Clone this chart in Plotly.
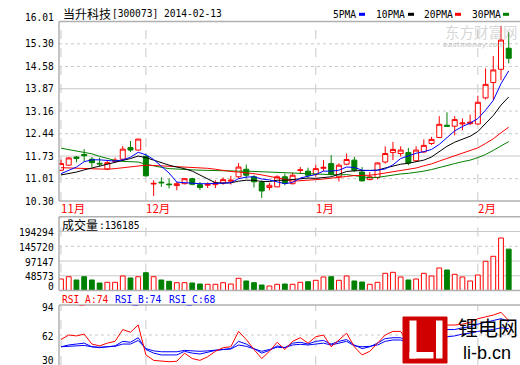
import plotly.graph_objects as go

W, H = 520, 365

dates = [
    "2013-11-15", "2013-11-18", "2013-11-19", "2013-11-20", "2013-11-21", "2013-11-22",
    "2013-11-25", "2013-11-26", "2013-11-27", "2013-11-28", "2013-11-29",
    "2013-12-02", "2013-12-03", "2013-12-04", "2013-12-05", "2013-12-06", "2013-12-09",
    "2013-12-10", "2013-12-11", "2013-12-12", "2013-12-13", "2013-12-16", "2013-12-17",
    "2013-12-18", "2013-12-19", "2013-12-20", "2013-12-23", "2013-12-24", "2013-12-25",
    "2013-12-26", "2013-12-27", "2013-12-30", "2013-12-31",
    "2014-01-02", "2014-01-03", "2014-01-06", "2014-01-07", "2014-01-08", "2014-01-09",
    "2014-01-10", "2014-01-13", "2014-01-14", "2014-01-15", "2014-01-16", "2014-01-17",
    "2014-01-20", "2014-01-21", "2014-01-22", "2014-01-23", "2014-01-24", "2014-01-27",
    "2014-01-28", "2014-01-29", "2014-01-30",
    "2014-02-07", "2014-02-10", "2014-02-11", "2014-02-12", "2014-02-13",
]

opens = [11.28, 11.44, 11.70, 11.78, 11.63, 11.50, 11.32, 11.56, 11.63, 12.00,
         11.92, 11.72, 10.84, 10.90, 10.84, 10.79, 10.85, 11.01, 10.82, 10.80,
         10.82, 10.87, 10.93, 11.07, 11.31, 11.07, 10.89, 10.73, 10.75, 11.07,
         10.85, 11.27, 11.25, 11.15, 11.34, 11.49, 11.07, 11.47, 11.60, 11.22,
         10.98, 11.05, 11.54, 11.84, 11.81, 11.84, 11.58, 11.86, 12.13, 12.32,
         12.71, 12.68, 12.75, 12.76, 12.75, 13.58, 14.07, 14.49, 15.16]
highs = [11.62, 11.69, 11.73, 11.95, 11.70, 11.68, 11.58, 11.68, 12.05, 12.21,
         12.28, 11.81, 10.96, 11.05, 11.01, 10.91, 11.03, 11.04, 10.90, 10.89,
         10.96, 11.05, 11.10, 11.51, 11.46, 11.12, 10.96, 10.88, 11.12, 11.17,
         11.20, 11.38, 11.36, 11.45, 11.60, 11.76, 11.50, 11.81, 11.70, 11.38,
         11.22, 11.53, 12.04, 12.18, 12.04, 11.99, 12.04, 12.26, 12.34, 13.00,
         13.12, 13.00, 12.93, 13.05, 13.65, 14.52, 14.91, 15.87, 15.67]
lows = [11.25, 11.42, 11.53, 11.55, 11.38, 11.40, 11.28, 11.52, 11.57, 11.86,
        11.91, 11.08, 10.46, 10.75, 10.70, 10.64, 10.83, 10.80, 10.65, 10.71,
        10.71, 10.82, 10.82, 11.01, 11.02, 10.73, 10.40, 10.64, 10.74, 10.80,
        10.83, 11.17, 11.04, 11.07, 11.25, 11.12, 10.92, 11.44, 11.22, 10.92,
        10.96, 10.99, 11.49, 11.60, 11.72, 11.44, 11.54, 11.83, 12.08, 12.30,
        12.66, 12.39, 12.55, 12.71, 12.73, 13.53, 13.51, 14.14, 14.68]
closes = [11.49, 11.67, 11.65, 11.74, 11.52, 11.48, 11.52, 11.60, 11.95, 11.92,
          12.27, 11.10, 10.86, 10.88, 10.82, 10.85, 11.01, 10.83, 10.73, 10.83,
          10.88, 10.98, 10.96, 11.38, 11.12, 10.91, 10.62, 10.80, 11.07, 10.86,
          11.12, 11.29, 11.12, 11.33, 11.37, 11.14, 11.44, 11.62, 11.28, 10.94,
          11.07, 11.51, 11.81, 11.94, 11.92, 11.51, 11.92, 12.07, 12.26, 12.74,
          12.68, 12.89, 12.78, 12.81, 13.44, 14.01, 14.47, 15.42, 14.84]

ma5 = [11.17, 11.28, 11.38, 11.55, 11.61, 11.61, 11.58, 11.57, 11.61, 11.69,
       11.85, 11.77, 11.62, 11.41, 11.19, 10.90, 10.88, 10.88, 10.85, 10.85,
       10.86, 10.85, 10.88, 11.01, 11.06, 11.07, 11.00, 10.97, 10.90, 10.85,
       10.89, 11.03, 11.09, 11.14, 11.25, 11.25, 11.28, 11.38, 11.37, 11.28,
       11.27, 11.28, 11.32, 11.45, 11.65, 11.74, 11.82, 11.87, 11.94, 12.10,
       12.33, 12.53, 12.67, 12.78, 12.92, 13.19, 13.50, 14.03, 14.44]
ma10 = [11.13, 11.17, 11.22, 11.29, 11.35, 11.40, 11.46, 11.52, 11.58, 11.65,
        11.73, 11.68, 11.60, 11.51, 11.44, 11.38, 11.33, 11.25, 11.13, 11.02,
        10.88, 10.87, 10.88, 10.93, 10.96, 10.96, 10.92, 10.92, 10.96, 10.96,
        10.98, 11.01, 11.03, 11.02, 11.05, 11.07, 11.15, 11.24, 11.26, 11.27,
        11.26, 11.28, 11.35, 11.41, 11.47, 11.50, 11.55, 11.60, 11.70, 11.88,
        12.04, 12.17, 12.27, 12.36, 12.51, 12.76, 13.02, 13.35, 13.61]
ma20 = [11.36, 11.35, 11.34, 11.33, 11.32, 11.31, 11.31, 11.33, 11.36, 11.39,
        11.43, 11.44, 11.43, 11.42, 11.41, 11.40, 11.39, 11.37, 11.36, 11.34,
        11.31, 11.27, 11.24, 11.22, 11.20, 11.17, 11.13, 11.09, 11.04, 10.99,
        10.93, 10.94, 10.95, 10.98, 11.00, 11.02, 11.04, 11.08, 11.11, 11.11,
        11.12, 11.15, 11.19, 11.22, 11.26, 11.29, 11.35, 11.42, 11.48, 11.57,
        11.65, 11.73, 11.81, 11.89, 11.99, 12.13, 12.28, 12.47, 12.65]
ma30 = [11.98, 11.94, 11.90, 11.86, 11.80, 11.72, 11.65, 11.59, 11.56, 11.55,
        11.54, 11.47, 11.41, 11.37, 11.33, 11.31, 11.30, 11.29, 11.28, 11.27,
        11.27, 11.26, 11.26, 11.25, 11.25, 11.24, 11.23, 11.22, 11.22, 11.21,
        11.20, 11.19, 11.17, 11.15, 11.15, 11.14, 11.13, 11.14, 11.11, 11.08,
        11.04, 11.05, 11.09, 11.12, 11.16, 11.18, 11.21, 11.25, 11.30, 11.37,
        11.43, 11.49, 11.55, 11.60, 11.68, 11.78, 11.91, 12.06, 12.19]

volumes = [37900, 45400, 34600, 45400, 34600, 24700, 27000, 27000, 47700, 41200,
           45400, 58600, 45400, 34600, 30300, 25700, 25700, 24700, 21400, 20400,
           20400, 25700, 21400, 40200, 31300, 25700, 18100, 14800, 20400, 21400,
           20400, 27000, 29000, 33600, 44500, 45400, 33600, 47700, 31300, 28000,
           20400, 27000, 56600, 59900, 44500, 34600, 37900, 56600, 47700, 74100,
           67500, 53300, 44500, 31300, 51000, 96200, 112600, 172900, 136185]

rsi_a = [57, 62, 61, 63, 52, 50, 53, 55, 68, 65,
         73, 40, 34, 33, 32.5, 33, 42, 36, 34, 38,
         44, 48, 49, 66, 57, 46, 36, 44, 54, 46,
         55, 59, 53, 60, 62, 49, 57, 64, 49, 40,
         44, 53, 62, 66, 66, 53, 62, 66, 69, 75,
         73, 73, 74, 76, 80, 82, 84, 87, 78]
rsi_b = [49, 51, 52, 53, 49, 48, 49, 50, 55, 54,
         59, 46, 42, 40, 40, 40, 44, 42, 41, 43,
         45, 46, 47, 55, 52, 47, 42, 45, 50, 48,
         53, 54, 52, 55, 56, 52, 55, 57, 51, 47,
         49, 53, 58, 59, 59, 55, 59, 62, 64, 68,
         68, 68, 70, 71, 74, 76, 78, 80, 77]
rsi_c = [49, 49.5, 50, 50.5, 49, 48.5, 49, 49.5, 52, 52,
         56, 47, 44.5, 43.5, 43.5, 43.5, 45, 44.5, 44, 44.5,
         45.5, 46, 46.5, 51, 49.5, 47, 44, 46, 48.5, 48,
         51, 51.7, 51, 52, 53, 51, 53, 55, 50, 49,
         49.5, 51, 55, 56.5, 56.5, 54, 56, 58, 59, 61,
         60, 61, 63, 64, 66, 67, 68, 70, 69]

price_ticks = [16.01, 15.30, 14.58, 13.87, 13.16, 12.44, 11.73, 11.01, 10.30]
price_tick_text = ["16.01", "15.30", "14.58", "13.87", "13.16", "12.44", "11.73", "11.01", "10.30"]
vol_ticks = [194294, 145720, 97147, 48573, 0]
rsi_ticks = [94, 62, 30]
month_starts = ["2013-11-15", "2013-12-02", "2014-01-02", "2014-02-07"]
month_labels = ["11月", "12月", "1月", "2月"]

title_name = "当升科技"
title_code = "[300073] 2014-02-13"
ma_names = ["5PMA", "10PMA", "20PMA", "30PMA"]
vol_label = "成交量"
vol_value = ":136185"
rsi_labels = ["RSI_A:74", "RSI_B:74", "RSI_C:68"]

RED = "#FF0000"
GREEN = "#008000"
BLUE = "#0000FF"
BLACK = "#000000"
FRAME = "#b0b0b0"
GRID = "#c8c8c8"
MONO = "DejaVu Sans Mono"
CJK = "Noto Sans CJK SC"


def px(x):
    return x / W


def py(y):
    return 1 - y / H


# panel pixel geometry
P_TOP, P_BOT = 21.5, 201.0
V_TOP, V_BOT = 216.7, 290.5
R_TOP, R_BOT = 305.0, 365.0
LEFT = 59.0

fig = go.Figure()

fig.add_trace(go.Candlestick(
    x=dates, open=opens, high=highs, low=lows, close=closes,
    increasing=dict(line=dict(color=RED, width=1), fillcolor="#FFFFFF"),
    decreasing=dict(line=dict(color=GREEN, width=1), fillcolor=GREEN),
    whiskerwidth=0, xaxis="x", yaxis="y", hoverinfo="skip",
))

for vals, col in [(ma30, GREEN), (ma20, RED), (ma10, BLACK), (ma5, BLUE)]:
    fig.add_trace(go.Scatter(x=dates, y=vals, mode="lines",
                             line=dict(color=col, width=1),
                             xaxis="x", yaxis="y", hoverinfo="skip"))

up = [c >= o for o, c in zip(opens, closes)]
fig.add_trace(go.Bar(
    x=dates, y=volumes, width=0.62,
    marker=dict(color=["#FFFFFF" if u else GREEN for u in up],
                line=dict(color=[RED if u else GREEN for u in up], width=1)),
    xaxis="x", yaxis="y2", hoverinfo="skip",
))

for vals, col in [(rsi_c, BLUE), (rsi_b, BLUE), (rsi_a, RED)]:
    fig.add_trace(go.Scatter(x=dates, y=vals, mode="lines",
                             line=dict(color=col, width=1),
                             xaxis="x", yaxis="y3", hoverinfo="skip"))

n = len(dates)
xrange = [-0.26, n + 0.46]

shapes = []
# horizontal grid lines
solid_price = {13.87, 11.73}
for v in price_ticks[1:-1]:
    shapes.append(dict(type="line", xref="paper", yref="y", x0=px(LEFT), x1=1, y0=v, y1=v,
                       line=dict(color=GRID, width=1, dash="solid" if v in solid_price else "dot"),
                       layer="below"))
for v in vol_ticks[:-1]:
    shapes.append(dict(type="line", xref="paper", yref="y2", x0=px(LEFT), x1=1, y0=v, y1=v,
                       line=dict(color=GRID, width=1, dash="dot" if v == 145720 else "solid"),
                       layer="below"))
shapes.append(dict(type="line", xref="paper", yref="y3", x0=px(LEFT), x1=1, y0=62, y1=62,
                   line=dict(color=GRID, width=1, dash="dot"), layer="below"))

# month separator dashed lines
for d in month_starts:
    i = dates.index(d)
    for yr in ["y", "y2", "y3"]:
        shapes.append(dict(type="line", xref="x", yref=yr + " domain", x0=i, x1=i, y0=0, y1=1,
                           line=dict(color=GRID, width=1, dash="dash"), layer="below"))

# panel frames
for top, bot in [(P_TOP, P_BOT), (V_TOP, V_BOT), (R_TOP, R_BOT)]:
    shapes.append(dict(type="line", xref="paper", yref="paper", x0=px(LEFT), x1=1,
                       y0=py(top), y1=py(top), line=dict(color=FRAME, width=1.5)))
    shapes.append(dict(type="line", xref="paper", yref="paper", x0=px(LEFT), x1=px(LEFT),
                       y0=py(top), y1=py(bot), line=dict(color=FRAME, width=1.5)))
for bot in [P_BOT, V_BOT]:
    shapes.append(dict(type="line", xref="paper", yref="paper", x0=px(LEFT), x1=1,
                       y0=py(bot), y1=py(bot), line=dict(color=FRAME, width=1.5)))

# legend colour keys
key_x = [(359, 365), (408, 414), (455, 461), (503, 509)]
for (a, b), col in zip(key_x, [BLUE, BLACK, RED, GREEN]):
    shapes.append(dict(type="rect", xref="paper", yref="paper", x0=px(a), x1=px(b),
                       y0=py(15.8), y1=py(12.8), fillcolor=col, line=dict(width=0)))

# li-b.cn logo block
shapes.append(dict(type="rect", xref="paper", yref="paper", x0=px(403), x1=px(447),
                   y0=py(363), y1=py(317), fillcolor="#D00000", line=dict(color="#D00000", width=1)))
for (a, b, c, d) in [(409.5, 416.5, 320.5, 358.5), (409.5, 433.5, 352, 358.5), (436, 442.5, 320.5, 358.5)]:
    shapes.append(dict(type="rect", xref="paper", yref="paper", x0=px(a), x1=px(b),
                       y0=py(d), y1=py(c), fillcolor="#FFFFFF", line=dict(width=0)))

ann = []


def text(x, y, s, size, color=BLACK, family=MONO, xanchor="left", **kw):
    ann.append(dict(x=px(x), y=py(y), xref="paper", yref="paper", text=s, showarrow=False,
                    xanchor=xanchor, yanchor="middle", font=dict(size=size, color=color, family=family),
                    **kw))


# title
text(61, 13.5, title_name, 12, family=CJK)
text(110, 14, title_code, 9.6)
# MA legend
for x, s in zip([331, 374, 422, 470], ma_names):
    text(x, 14.5, s, 9.6)
# watermark
text(443, 31.5, "东方财富网", 14.5, color="rgba(150,150,150,0.40)", family=CJK, xanchor="left")
text(474, 45, "<b><i>eastmoney.com</i></b>", 7, color="rgba(150,150,150,0.40)",
     family="DejaVu Sans", xanchor="center")

# price tick labels
for v, s in zip(price_ticks, price_tick_text):
    ann.append(dict(x=px(56), y=v, xref="paper", yref="y", text=s, showarrow=False,
                    xanchor="right", yanchor="middle", yshift=4 if v == price_ticks[0] else 0,
                    font=dict(size=9.6, family=MONO, color=BLACK)))
# volume tick labels
for v in vol_ticks:
    ann.append(dict(x=px(56), y=v, xref="paper", yref="y2", text=str(v), showarrow=False,
                    xanchor="right", yanchor="middle", yshift=4 if v == 0 else -1,
                    font=dict(size=9.6, family=MONO, color=BLACK)))
# rsi tick labels
for v in rsi_ticks:
    ann.append(dict(x=px(56), y=v, xref="paper", yref="y3", text=str(v), showarrow=False,
                    xanchor="right", yanchor="middle", yshift=3 if v == 30 else -1,
                    font=dict(size=9.6, family=MONO, color=BLACK)))

# month labels
for d, s in zip(month_starts, month_labels):
    ann.append(dict(x=dates.index(d), y=py(207.5), xref="x", yref="paper", text=s, showarrow=False,
                    xanchor="left", yanchor="middle", xshift=-2,
                    font=dict(size=11.5, family=CJK, color=RED)))

# volume header
text(60, 224.5, vol_label, 12, family=CJK)
text(97, 225, vol_value, 9.6)
# rsi header
for x, s, col in zip([60, 113, 167], rsi_labels, [RED, BLUE, BLUE]):
    text(x, 300, s, 9.6, color=col)

# logo text
text(456, 327, "锂电网", 20, family=CJK)
text(487, 353, "li-b.cn", 18, family="Liberation Sans", xanchor="center")

fig.update_layout(
    width=W, height=H, margin=dict(l=0, r=0, t=0, b=0),
    paper_bgcolor="#FFFFFF", plot_bgcolor="#FFFFFF",
    showlegend=False, boxgap=0.1, boxgroupgap=0.28,
    shapes=shapes, annotations=ann,
    xaxis=dict(type="category", domain=[px(LEFT), 1], range=xrange, showticklabels=False,
               showgrid=False, zeroline=False, showline=False, ticks="",
               rangeslider=dict(visible=False), fixedrange=True),
    yaxis=dict(domain=[py(P_BOT), py(P_TOP)], range=[10.30, 16.01], anchor="x",
               showticklabels=False, showgrid=False, zeroline=False, showline=False, fixedrange=True),
    yaxis2=dict(domain=[py(V_BOT), py(V_TOP)], range=[0, (V_BOT - V_TOP) * 3293], anchor="x",
                showticklabels=False, showgrid=False, zeroline=False, showline=False, fixedrange=True),
    yaxis3=dict(domain=[0, py(R_TOP)], range=[28.89, 95.11], anchor="x",
                showticklabels=False, showgrid=False, zeroline=False, showline=False, fixedrange=True),
    hovermode=False,
)

fig.write_html("out.html", config={"displayModeBar": False, "staticPlot": True},
               post_script="document.body.style.margin='0px';document.body.style.overflow='hidden';")
